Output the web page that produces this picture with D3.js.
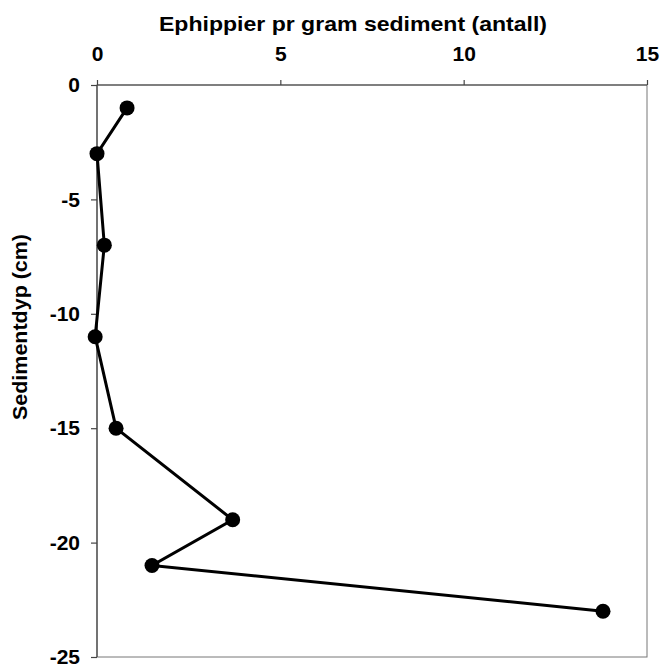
<!DOCTYPE html>
<html>
<head>
<meta charset="utf-8">
<script src="https://cdn.jsdelivr.net/npm/d3@7"></script>
<style>
html,body{margin:0;padding:0;background:#fff;}
svg{display:block;}
text{font-family:"Liberation Sans",Arial,sans-serif;font-weight:bold;fill:#000;}
</style>
</head>
<body>
<svg id="chart" width="663" height="665"></svg>
<script>
const depths = [-1, -3, -7, -11, -15, -19, -21, -23];
const ephippia = [0.82, 0.0, 0.2, -0.05, 0.52, 3.7, 1.5, 13.8];
const xTicks = [0, 5, 10, 15];
const yTicks = [0, -5, -10, -15, -20, -25];
const xTitle = "Ephippier pr gram sediment (antall)";
const yTitle = "Sedimentdyp (cm)";

const svg = d3.select("#chart");
const L = 97, R = 647, T = 85, B = 657;
const x = d3.scaleLinear().domain([0, 15]).range([L, R]);
const y = d3.scaleLinear().domain([0, -25]).range([T, B]);

svg.append("rect").attr("x", L).attr("y", T).attr("width", R - L).attr("height", B - T)
  .attr("fill", "none").attr("stroke", "#777").attr("stroke-width", 1);

const xAxis = svg.append("g").attr("transform", `translate(0,${T})`)
  .call(d3.axisTop(x).tickValues(xTicks).tickFormat(d3.format("d")).tickSize(5).tickPadding(19));
const yAxis = svg.append("g").attr("transform", `translate(${L},0)`)
  .call(d3.axisLeft(y).tickValues(yTicks).tickFormat(d => d === 0 ? "0" : "-" + Math.abs(d)).tickSize(6).tickPadding(11));
[xAxis, yAxis].forEach(a => {
  a.selectAll(".tick line").attr("stroke", "#444").attr("stroke-width", 1.2);
  a.selectAll(".tick text").style("font-size", "21px").attr("font-family", null);
  a.select(".domain").remove();
});
svg.append("line").attr("x1", L).attr("x2", R).attr("y1", T).attr("y2", T).attr("stroke", "#444").attr("stroke-width", 1.2);
svg.append("line").attr("x1", L).attr("x2", L).attr("y1", T).attr("y2", B).attr("stroke", "#444").attr("stroke-width", 1.2);

svg.append("text").attr("x", 353).attr("y", 31).attr("text-anchor", "middle")
  .attr("textLength", 388).attr("lengthAdjust", "spacingAndGlyphs")
  .style("font-size", "21px").text(xTitle);
svg.append("text").attr("transform", "translate(27,327) rotate(-90)").attr("text-anchor", "middle")
  .attr("textLength", 186).attr("lengthAdjust", "spacingAndGlyphs")
  .style("font-size", "20px").text(yTitle);

const pts = depths.map((d, i) => ({d, v: ephippia[i]}));
svg.append("path").datum(pts)
  .attr("d", d3.line().x(p => x(p.v)).y(p => y(p.d)))
  .attr("fill", "none").attr("stroke", "#000").attr("stroke-width", 3);
svg.selectAll("circle.pt").data(pts).join("circle").attr("class", "pt")
  .attr("cx", p => x(p.v)).attr("cy", p => y(p.d)).attr("r", 7.5).attr("fill", "#000");
</script>
</body>
</html>
